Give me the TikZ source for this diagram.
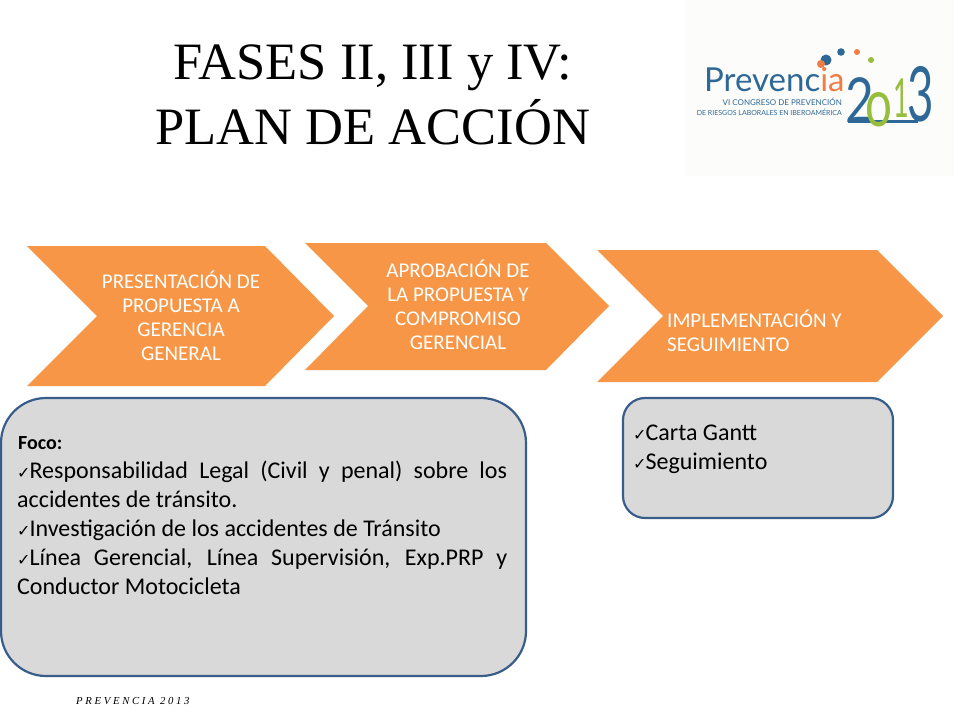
\documentclass[tikz,border=0pt]{standalone}
\usepackage{fontspec}
\setmainfont{Carlito}
\newfontfamily\titlefont{Liberation Serif}
\newfontfamily\checkfont{DejaVu Sans}
\newfontfamily\logofont{Lato}
\definecolor{fasecolor0000}{RGB}{247,150,70}
\definecolor{fasecolor0001}{RGB}{217,217,217}
\definecolor{fasecolor0002}{RGB}{56,93,138}
\definecolor{fasecolor0003}{RGB}{46,104,150}
\definecolor{fasecolor0004}{RGB}{240,125,70}
\definecolor{fasecolor0005}{RGB}{150,190,60}
\definecolor{fasecolor0006}{RGB}{252,252,250}
\newcommand{\chk}{{\checkfont\bfseries\fontsize{16}{16}\selectfont\char"2713}\kern-1pt}

\begin{document}
\begin{tikzpicture}[yscale=-1
                ,pstyle1/.style={fill=fasecolor0000,draw=none}
                ,pstyle2/.style={draw=fasecolor0002,fill=fasecolor0001,line width=2.2pt}
                ,tstyle1/.style={text=white,align=center,inner sep=0pt,font=\fontsize{21}{24}\selectfont}
                ,tstyle2/.style={text=black,align=center,inner sep=0pt,font=\titlefont\fontsize{52.5}{65}\selectfont}
                ,tstyle3/.style={text=black,align=justify,inner sep=0pt,below right,font=\fontsize{24}{29}\selectfont}
                ,tstyle4/.style={text=fasecolor0003,inner sep=0pt,font=\logofont\fontsize{8}{8}\selectfont}
                ,tstyle5/.style={inner sep=0pt,font=\logofont\fontsize{62}{62}\selectfont}
            ]
            \useasboundingbox (0pt,0pt) rectangle (960pt,720pt);
            % logo
            \fill[fasecolor0006] (685pt,0pt) rectangle (954pt,176pt);
            \fill[fasecolor0003] (826pt,60pt) circle (5.5pt);
            \fill[fasecolor0004] (821pt,64pt) circle (4pt);
            \fill[fasecolor0003] (841pt,52pt) circle (3.8pt);
            \fill[fasecolor0004] (857pt,52pt) circle (3pt);
            \fill[fasecolor0005] (871pt,60pt) circle (3pt);
            \node (logoprev) at (704pt,80pt)[right,inner sep=0pt,text=fasecolor0003,font=\logofont\fontsize{33}{33}\selectfont]{Prevenc\textcolor{fasecolor0004}{ia}};
            \node (logocong) at (842pt,102pt)[left,tstyle4]{VI CONGRESO DE PREVENCIÓN};
            \node (logorieg) at (842pt,112pt)[left,tstyle4,font=\logofont\fontsize{7}{7}\selectfont]{DE RIESGOS LABORALES EN IBEROAMÉRICA};
            \draw[fasecolor0003,line width=3pt] (848pt,121pt) -- (918pt,121pt);
            \node (logodos) at (860pt,100pt)[tstyle5,text=fasecolor0003]{\scalebox{.8}[1]{2}};
            \node (logocero) at (879pt,110pt)[tstyle5,text=fasecolor0005,font=\logofont\fontsize{66}{66}\selectfont]{\scalebox{.72}[1]{o}};
            \node (logouno) at (901pt,98pt)[tstyle5,text=fasecolor0005,font=\logofont\fontsize{54}{54}\selectfont]{\scalebox{.5}[1]{1}};
            \node (logotres) at (921pt,94pt)[tstyle5,text=fasecolor0003,font=\logofont\fontsize{76}{76}\selectfont]{\scalebox{.6}[1]{3}};
            % title
            \node (titulo) at (373pt,95pt)[tstyle2]{FASES II, III y IV:\\PLAN DE ACCIÓN};
            % chevrons
            \fill[pstyle1] (27pt,246pt) -- (265pt,246pt) -- (334pt,316pt) -- (265pt,386pt) -- (27pt,386pt) -- (97pt,316pt) -- cycle;
            \fill[pstyle1] (305pt,243pt) -- (546pt,243pt) -- (609pt,306pt) -- (546pt,370pt) -- (305pt,370pt) -- (368pt,306pt) -- cycle;
            \fill[pstyle1] (597pt,250pt) -- (877pt,250pt) -- (943pt,316pt) -- (877pt,382pt) -- (597pt,382pt) -- (663pt,316pt) -- cycle;
            \node (fase1) at (181pt,316pt)[tstyle1]{PRESENTACIÓN DE\\PROPUESTA A\\GERENCIA\\GENERAL};
            \node (fase2) at (458pt,305pt)[tstyle1]{APROBACIÓN DE\\LA PROPUESTA Y\\COMPROMISO\\GERENCIAL};
            \node (fase3) at (667pt,331pt)[tstyle1,right,align=left]{IMPLEMENTACIÓN Y\\SEGUIMIENTO};
            % panels
            \draw[pstyle2,rounded corners=45pt] (1pt,398pt) rectangle (526pt,676pt);
            \draw[pstyle2,rounded corners=22pt] (623pt,398pt) rectangle (893pt,518pt);
            \node (foco) at (18pt,436pt)[below right,inner sep=0pt,font=\bfseries\fontsize{20}{20}\selectfont]{Foco:};
            \node (focotxt) at (17pt,461pt)[tstyle3,text width=490pt]{\chk Responsabilidad Legal (Civil y penal) sobre los\linebreak accidentes de tránsito.\par
                \chk Investigación de los accidentes de Tránsito\par
                \chk Línea Gerencial, Línea Supervisión, Exp.PRP y\linebreak Conductor Motocicleta};
            \node (gantt) at (633pt,425pt)[tstyle3,align=left]{\chk Carta Gantt\\\chk Seguimiento};
            % footer
            \node (pie) at (76pt,701pt)[right,inner sep=0pt,font=\titlefont\itshape\fontsize{10.7}{10.7}\selectfont]{P R E V E N C I A\ \ 2 0 1 3};
        \end{tikzpicture}
\end{document}
